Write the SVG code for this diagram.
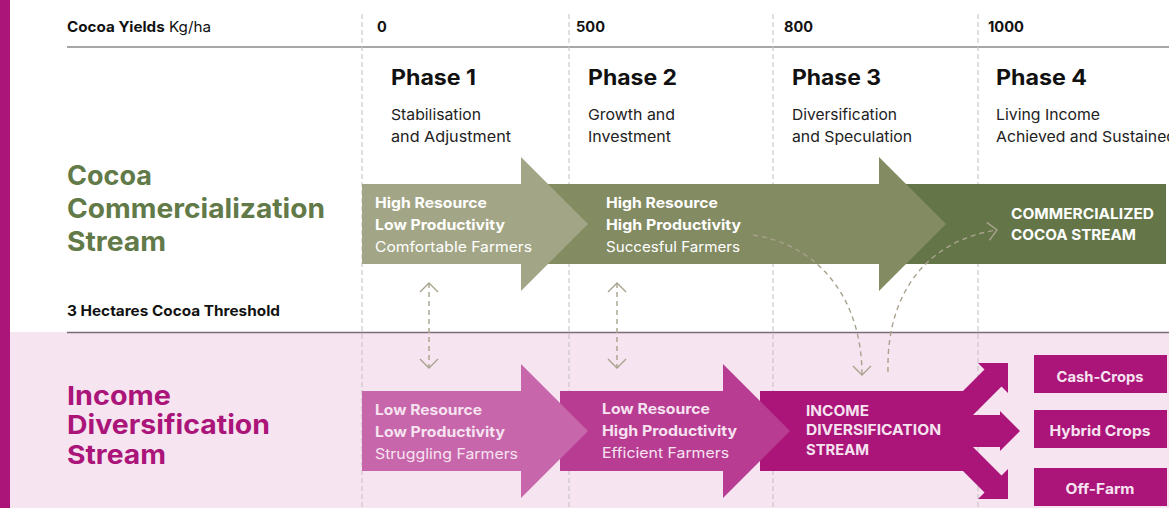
<svg xmlns="http://www.w3.org/2000/svg" width="1169" height="508" viewBox="0 0 1169 508">
  <style>
    text { font-family: Inter, "Open Sans", "Liberation Sans", sans-serif; }
    .b { font-weight: 700; }
    .r { font-weight: 400; }
    .hdr { font-size: 14.5px; fill: #111; }
    .phase { font-size: 21px; font-weight: 700; fill: #111; }
    .sub { font-size: 15px; fill: #222; }
    .lbl { font-size: 14.5px; }
    .wt { fill: #ffffff; }
    .pk { fill: #f6e3f0; }
    .green-title { font-size: 27px; font-weight: 700; fill: #627a48; }
    .pink-title { font-size: 26px; font-weight: 700; fill: #ab1479; }
    .grid { stroke: #c3bfbf; stroke-width: 1; stroke-dasharray: 5 3; fill: none; }
    .flow { stroke: #a8a28c; stroke-width: 1.4; stroke-dasharray: 5 4; fill: none; }
    .box { fill: #ab1479; }
  </style>
  <defs>
    <marker id="chev" markerUnits="userSpaceOnUse" markerWidth="24" markerHeight="24" viewBox="-12 -12 24 24" refX="0" refY="0" orient="auto-start-reverse">
      <path d="M-9,-9 L0,0 L-9,9" fill="none" stroke="#a8a28c" stroke-width="1.4"/>
    </marker>
  </defs>

  <!-- page background and section bands -->
  <rect x="0" y="0" width="1169" height="508" fill="#ffffff"/>
  <rect x="10" y="332" width="1159" height="176" fill="#f6e5f1"/>
  <rect x="0" y="0" width="10" height="508" fill="#ab1479"/>

  <!-- yield scale grid -->
  <g id="scale">
    <line x1="67" y1="47" x2="1169" y2="47" stroke="#8a8a8a" stroke-width="1.6"/>
    <line x1="67" y1="332.5" x2="1169" y2="332.5" stroke="#7d6a78" stroke-width="1.6"/>
    <path class="grid" d="M362,14 V508 M569,14 V508 M773,14 V508 M978,14 V508"/>
    <text class="hdr" x="67" y="32" textLength="144" lengthAdjust="spacingAndGlyphs"><tspan class="b">Cocoa Yields</tspan><tspan class="r"> Kg/ha</tspan></text>
    <text class="hdr b" x="377" y="32">0</text>
    <text class="hdr b" x="576" y="32" textLength="29" lengthAdjust="spacingAndGlyphs">500</text>
    <text class="hdr b" x="784" y="32" textLength="29" lengthAdjust="spacingAndGlyphs">800</text>
    <text class="hdr b" x="988" y="32" textLength="36" lengthAdjust="spacingAndGlyphs">1000</text>
    <text class="hdr b" x="67" y="316" font-size="14" textLength="213" lengthAdjust="spacingAndGlyphs">3 Hectares Cocoa Threshold</text>
  </g>

  <!-- phase headings -->
  <g id="phase-1">
    <text class="phase" x="391" y="85" textLength="85" lengthAdjust="spacingAndGlyphs">Phase 1</text>
    <text class="sub" x="391" y="120" textLength="90" lengthAdjust="spacingAndGlyphs">Stabilisation</text>
    <text class="sub" x="391" y="142" textLength="120" lengthAdjust="spacingAndGlyphs">and Adjustment</text>
  </g>
  <g id="phase-2">
    <text class="phase" x="588" y="85" textLength="89" lengthAdjust="spacingAndGlyphs">Phase 2</text>
    <text class="sub" x="588" y="120" textLength="87" lengthAdjust="spacingAndGlyphs">Growth and</text>
    <text class="sub" x="588" y="142" textLength="83" lengthAdjust="spacingAndGlyphs">Investment</text>
  </g>
  <g id="phase-3">
    <text class="phase" x="792" y="85" textLength="89" lengthAdjust="spacingAndGlyphs">Phase 3</text>
    <text class="sub" x="792" y="120" textLength="105" lengthAdjust="spacingAndGlyphs">Diversification</text>
    <text class="sub" x="792" y="142" textLength="120" lengthAdjust="spacingAndGlyphs">and Speculation</text>
  </g>
  <g id="phase-4">
    <text class="phase" x="996" y="85" textLength="91" lengthAdjust="spacingAndGlyphs">Phase 4</text>
    <text class="sub" x="996" y="120" textLength="104" lengthAdjust="spacingAndGlyphs">Living Income</text>
    <text class="sub" x="996" y="142" textLength="180" lengthAdjust="spacingAndGlyphs">Achieved and Sustained</text>
  </g>

  <!-- stream titles -->
  <g id="cocoa-stream-title">
    <text class="green-title" x="67" y="185" textLength="85" lengthAdjust="spacingAndGlyphs">Cocoa</text>
    <text class="green-title" x="67" y="218" textLength="258" lengthAdjust="spacingAndGlyphs">Commercialization</text>
    <text class="green-title" x="67" y="251" textLength="99" lengthAdjust="spacingAndGlyphs">Stream</text>
  </g>
  <g id="income-stream-title">
    <text class="pink-title" x="67" y="405" textLength="104" lengthAdjust="spacingAndGlyphs">Income</text>
    <text class="pink-title" x="67" y="434" textLength="203" lengthAdjust="spacingAndGlyphs">Diversification</text>
    <text class="pink-title" x="67" y="464" textLength="99" lengthAdjust="spacingAndGlyphs">Stream</text>
  </g>

  <!-- cocoa commercialization arrows -->
  <g id="commercialized-cocoa-stream">
    <rect x="880" y="184" width="286" height="80" fill="#647648"/>
    <text class="lbl b wt" x="1011" y="219" textLength="143" lengthAdjust="spacingAndGlyphs">COMMERCIALIZED</text>
    <text class="lbl b wt" x="1011" y="240" textLength="125" lengthAdjust="spacingAndGlyphs">COCOA STREAM</text>
  </g>
  <g id="successful-farmers">
    <path d="M540,184 H879 V157 L946,224 L879,291 V264 H540 Z" fill="#838b62"/>
    <text class="lbl b wt" x="606" y="208" textLength="112" lengthAdjust="spacingAndGlyphs">High Resource</text>
    <text class="lbl b wt" x="606" y="230" textLength="135" lengthAdjust="spacingAndGlyphs">High Productivity</text>
    <text class="lbl r wt" x="606" y="252" textLength="134" lengthAdjust="spacingAndGlyphs">Succesful Farmers</text>
  </g>
  <g id="comfortable-farmers">
    <path d="M362,184 H521 V157 L588,224 L521,291 V264 H362 Z" fill="#a3a686"/>
    <text class="lbl b wt" x="375" y="208" textLength="112" lengthAdjust="spacingAndGlyphs">High Resource</text>
    <text class="lbl b wt" x="375" y="230" textLength="130" lengthAdjust="spacingAndGlyphs">Low Productivity</text>
    <text class="lbl r wt" x="375" y="252" textLength="157" lengthAdjust="spacingAndGlyphs">Comfortable Farmers</text>
  </g>

  <!-- income diversification arrows -->
  <g id="income-diversification-stream">
    <path d="M760,391 H963 L984.5,369.5 L978,363 H1008 V393 L1001.5,386.5 L973,415 H1000 V411 L1020,431 L1000,451 V447 H973 L1001.5,475.5 L1008,469 V499 H978 L984.5,492.5 L963,471 H760 Z" fill="#ab1479"/>
    <text class="lbl b pk" x="806" y="416" textLength="63" lengthAdjust="spacingAndGlyphs">INCOME</text>
    <text class="lbl b pk" x="806" y="435" textLength="135" lengthAdjust="spacingAndGlyphs">DIVERSIFICATION</text>
    <text class="lbl b pk" x="806" y="455" textLength="63" lengthAdjust="spacingAndGlyphs">STREAM</text>
  </g>
  <g id="efficient-farmers">
    <path d="M560,391 H723 V364 L790,431 L723,498 V471 H560 Z" fill="#b83c92"/>
    <text class="lbl b pk" x="602" y="414" textLength="108" lengthAdjust="spacingAndGlyphs">Low Resource</text>
    <text class="lbl b pk" x="602" y="436" textLength="135" lengthAdjust="spacingAndGlyphs">High Productivity</text>
    <text class="lbl r pk" x="602" y="458" textLength="127" lengthAdjust="spacingAndGlyphs">Efficient Farmers</text>
  </g>
  <g id="struggling-farmers">
    <path d="M362,391 H521 V364 L588,431 L521,498 V471 H362 Z" fill="#c866ab"/>
    <text class="lbl b pk" x="375" y="415" textLength="107" lengthAdjust="spacingAndGlyphs">Low Resource</text>
    <text class="lbl b pk" x="375" y="437" textLength="130" lengthAdjust="spacingAndGlyphs">Low Productivity</text>
    <text class="lbl r pk" x="375" y="459" textLength="143" lengthAdjust="spacingAndGlyphs">Struggling Farmers</text>
  </g>

  <!-- diversification outcomes -->
  <g id="cash-crops">
    <rect class="box" x="1034" y="355" width="133" height="38"/>
    <text class="lbl b pk" x="1100" y="382" text-anchor="middle" textLength="87" lengthAdjust="spacingAndGlyphs">Cash-Crops</text>
  </g>
  <g id="hybrid-crops">
    <rect class="box" x="1034" y="410" width="133" height="38"/>
    <text class="lbl b pk" x="1100" y="436" text-anchor="middle" textLength="101" lengthAdjust="spacingAndGlyphs">Hybrid Crops</text>
  </g>
  <g id="off-farm">
    <rect class="box" x="1034" y="468" width="133" height="38"/>
    <text class="lbl b pk" x="1100" y="494" text-anchor="middle" textLength="69" lengthAdjust="spacingAndGlyphs">Off-Farm</text>
  </g>

  <!-- dashed exchange connectors -->
  <g id="connectors">
    <line class="flow" x1="429" y1="283" x2="429" y2="368" marker-start="url(#chev)" marker-end="url(#chev)"/>
    <line class="flow" x1="617" y1="283" x2="617" y2="368" marker-start="url(#chev)" marker-end="url(#chev)"/>
    <path class="flow" d="M753,235 C820,245 862,300 862,375" marker-end="url(#chev)"/>
    <path class="flow" d="M888,372 C886,290 930,240 997,230" marker-end="url(#chev)"/>
  </g>
</svg>
